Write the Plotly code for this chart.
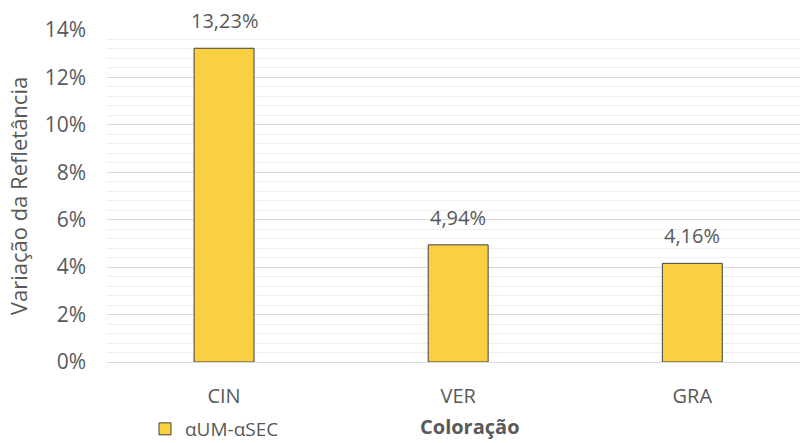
import plotly.graph_objects as go

categories = ["CIN", "VER", "GRA"]
values = [0.1323, 0.0494, 0.0416]
series_name = "αUM-αSEC"
y_ticks = [0, 0.02, 0.04, 0.06, 0.08, 0.10, 0.12, 0.14]
y_tick_labels = ["0%", "2%", "4%", "6%", "8%", "10%", "12%", "14%"]

FONT = "Open Sans"
GRAY = "#595959"
BAR = "#F8D042"

fig = go.Figure()
fig.add_trace(go.Bar(
    x=categories, y=values, name=series_name,
    marker=dict(color=BAR, line=dict(color="#404040", width=1)),
    width=0.256,
))
for c, v in zip(categories, values):
    fig.add_annotation(x=c, y=v, text=f"{v*100:.2f}%".replace(".", ","),
                       showarrow=False, yanchor="bottom", yshift=12,
                       font=dict(family=FONT, size=20, color=GRAY))

fig.add_annotation(text="<b>Coloração</b>", xref="paper", yref="paper",
                   x=(470-107)/693, y=(362-426)/332, showarrow=False,
                   xanchor="center", yanchor="middle",
                   font=dict(family=FONT, size=20, color=GRAY))

fig.update_layout(
    width=800, height=443,
    margin=dict(l=107, r=0, t=30, b=81),
    paper_bgcolor="white", plot_bgcolor="white",
    font=dict(family=FONT, color=GRAY, size=20),
    showlegend=True,
    legend=dict(orientation="h", xref="container", yref="container",
                x=145/800, y=1-429/443, xanchor="left", yanchor="middle",
                font=dict(family=FONT, size=19, color=GRAY),
                itemwidth=30, tracegroupgap=0, borderwidth=0),
    separators=",.",
    xaxis=dict(range=[-0.5, 2.46], showgrid=False, showline=False,
               ticks="", tickfont=dict(family=FONT, size=20, color=GRAY),
               ticklabelstandoff=20),
    yaxis=dict(range=[0, 0.14], tickvals=y_ticks, ticktext=y_tick_labels,
               showgrid=True, gridcolor="#D9D9D9", gridwidth=1.3,
               zeroline=True, zerolinecolor="#D9D9D9", zerolinewidth=1.3,
               showline=False,
               minor=dict(dtick=0.004, showgrid=True, gridcolor="#EFEFEF", gridwidth=1.3),
               tickfont=dict(family=FONT, size=21, color=GRAY),
               ticklabelstandoff=20,
               title=dict(text="Variação da Refletância", standoff=10,
                          font=dict(family=FONT, size=22, color=GRAY))),
)

fig.write_html("out.html")
